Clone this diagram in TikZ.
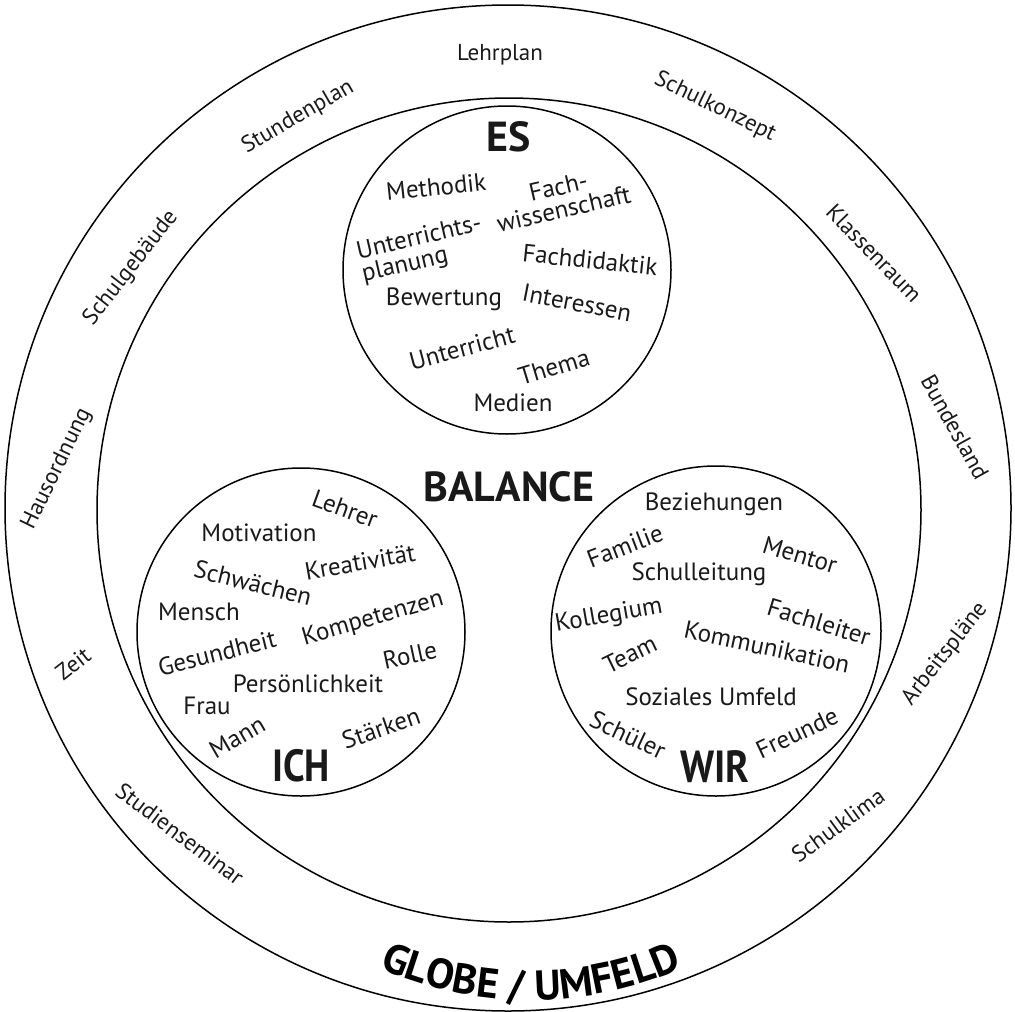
\documentclass[tikz,border=0pt]{standalone}
\usepackage{fontspec}
\setmainfont{PT Sans}
\usetikzlibrary{decorations.text}
\begin{document}
\begin{tikzpicture}[x=1pt,y=-1pt,
  ring/.style={draw=black, line width=1.5pt},
  word/.style={inner sep=0pt, text=black!90, font=\fontsize{25}{23}\selectfont},
  rimword/.style={inner sep=0pt, text=black!90, font=\fontsize{23}{25}\selectfont},
  title/.style={inner sep=0pt, text=black!90, font=\bfseries\fontsize{42}{42}\selectfont},
]
\useasboundingbox (0,0) rectangle (1015,1012);

% outer globe and inner field
\draw[ring] (508,508) circle[radius=503];
\draw[ring] (509,510) circle[radius=412];

% the three circles
\draw[ring] (507,270) circle[radius=164];
\draw[ring] (301,632) circle[radius=164];
\draw[ring] (716,631) circle[radius=165];

% labels in the ring
\node[rimword] (lehrplan) at (500,55) {Lehrplan};
\node[rimword, rotate=30] (stundenplan) at (298,117) {Stundenplan};
\node[rimword, rotate=-26] (schulkonzept) at (715,107) {Schulkonzept};
\node[rimword, rotate=52] (schulgebaeude) at (131,268) {Schulgebäude};
\node[rimword, rotate=-46] (klassenraum) at (874,253) {Klassenraum};
\node[rimword, rotate=64] (hausordnung) at (57,469) {Hausordnung};
\node[rimword, rotate=-61] (bundesland) at (955,427) {Bundesland};
\node[rimword, rotate=38] (zeit) at (73,664) {Zeit};
\node[rimword, rotate=52] (arbeitsplaene) at (945,654) {Arbeitspläne};
\node[rimword, rotate=-37] (studienseminar) at (180,834) {Studienseminar};
\node[rimword, rotate=36] (schulklima) at (838,825) {Schulklima};

\path[decorate, decoration={text along path, text align=center,
    text={|\bfseries\fontsize{42}{42}\selectfont|GLOBE / UMFELD}}]
  (531,623) ++(120:377) arc[start angle=120, end angle=60, radius=377];

% centre
\node[title] (balance) at (509,487) {BALANCE};

% ES
\node[title] (es) at (509,137) {ES};
\node[word, rotate=6] (methodik) at (436,187) {Methodik};
\node[word, rotate=13, align=center] (fachwiss) at (561,198) {Fach-\\wissenschaft};
\node[word, rotate=13, align=left] (uplanung) at (422,250) {Unterrichts-\\planung};
\node[word] (bewertung) at (444,299) {Bewertung};
\node[word, rotate=-6] (fachdidaktik) at (590,260) {Fachdidaktik};
\node[word, rotate=-11] (interessen) at (577,303) {Interessen};
\node[word, rotate=15] (unterricht) at (462,348) {Unterricht};
\node[word, rotate=17] (thema) at (554,367) {Thema};
\node[word] (medien) at (513,403) {Medien};

% ICH
\node[title, font=\bfseries\fontsize{45}{45}\selectfont, xscale=0.86] (ich) at (301,766) {ICH};
\node[word, rotate=-20] (lehrer) at (345,509) {Lehrer};
\node[word] (motivation) at (259,533) {Motivation};
\node[word, rotate=10] (kreativitaet) at (360,562) {Kreativität};
\node[word, rotate=-14] (schwaechen) at (253,583) {Schwächen};
\node[word] (mensch) at (199,612) {Mensch};
\node[word, rotate=16] (kompetenzen) at (373,619) {Kompetenzen};
\node[word, rotate=14] (gesundheit) at (217,653) {Gesundheit};
\node[word, rotate=12] (rolle) at (410,655) {Rolle};
\node[word] (persoenlichkeit) at (308,684) {Persönlichkeit};
\node[word] (frau) at (207,706) {Frau};
\node[word, rotate=30] (mann) at (237,737) {Mann};
\node[word, rotate=19] (staerken) at (381,728) {Stärken};

% WIR
\node[title, font=\bfseries\fontsize{45}{45}\selectfont, xscale=0.88] (wir) at (715,767) {WIR};
\node[word] (beziehungen) at (714,504) {Beziehungen};
\node[word, rotate=21] (familie) at (625,546) {Familie};
\node[word, rotate=-17] (mentor) at (800,555) {Mentor};
\node[word] (schulleitung) at (699,574) {Schulleitung};
\node[word, rotate=10] (kollegium) at (609,616) {Kollegium};
\node[word, rotate=-17] (fachleiter) at (819,622) {Fachleiter};
\node[word, rotate=-12] (kommunikation) at (767,647) {Kommunikation};
\node[word, rotate=26] (team) at (630,654) {Team};
\node[word] (soziales) at (711,697) {Soziales Umfeld};
\node[word, rotate=-25] (schueler) at (628,735) {Schüler};
\node[word, rotate=25] (freunde) at (797,733) {Freunde};
\end{tikzpicture}
\end{document}
